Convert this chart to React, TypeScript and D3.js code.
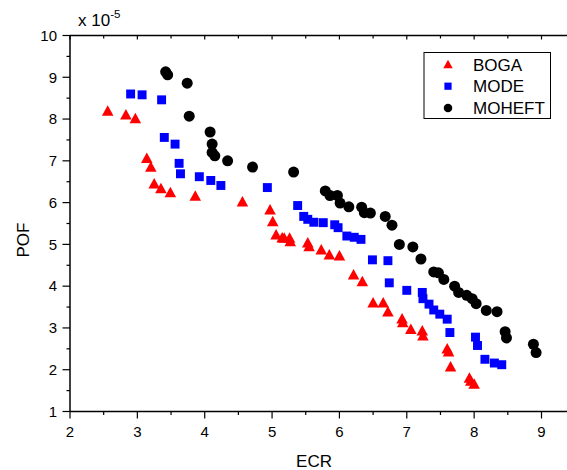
import React from "react";
import * as d3 from "d3";

const W = 567;
const H = 470;

const bogaX = [2.56, 2.83, 2.97, 3.14, 3.2, 3.25, 3.35, 3.49, 3.86, 4.56, 4.97, 5.01, 5.06, 5.15, 5.18, 5.26, 5.27, 5.53, 5.55, 5.73, 5.85, 6.0, 6.21, 6.34, 6.5, 6.65, 6.72, 6.93, 6.94, 7.06, 7.23, 7.24, 7.6, 7.62, 7.65, 7.93, 7.95, 8.0];
const bogaY = [8.19, 8.1, 8.01, 7.06, 6.85, 6.45, 6.34, 6.24, 6.16, 6.02, 5.83, 5.55, 5.23, 5.16, 5.15, 5.15, 5.07, 5.04, 4.95, 4.87, 4.75, 4.73, 4.27, 4.11, 3.6, 3.6, 3.39, 3.22, 3.13, 2.97, 2.93, 2.81, 2.5, 2.43, 2.07, 1.8, 1.73, 1.66];

const modeX = [2.9, 3.07, 3.36, 3.4, 3.56, 3.62, 3.64, 3.92, 4.09, 4.24, 4.93, 5.38, 5.47, 5.53, 5.62, 5.76, 5.93, 5.98, 6.11, 6.22, 6.32, 6.49, 6.72, 6.74, 7.0, 7.23, 7.24, 7.33, 7.4, 7.49, 7.6, 7.64, 8.02, 8.05, 8.16, 8.3, 8.41];
const modeY = [8.6, 8.58, 8.46, 7.56, 7.4, 6.94, 6.69, 6.62, 6.53, 6.41, 6.36, 5.93, 5.67, 5.6, 5.53, 5.52, 5.47, 5.4, 5.2, 5.17, 5.12, 4.63, 4.61, 4.08, 3.9, 3.85, 3.7, 3.57, 3.43, 3.33, 3.21, 2.89, 2.78, 2.58, 2.25, 2.16, 2.12];

const moheftX = [3.42, 3.45, 3.74, 3.77, 4.08, 4.11, 4.11, 4.15, 4.34, 4.71, 5.32, 5.79, 5.86, 5.97, 6.01, 6.14, 6.33, 6.37, 6.46, 6.68, 6.78, 6.89, 7.09, 7.21, 7.4, 7.47, 7.55, 7.71, 7.77, 7.89, 7.97, 8.03, 8.18, 8.34, 8.46, 8.48, 8.88, 8.92];
const moheftY = [9.13, 9.06, 8.86, 8.07, 7.69, 7.4, 7.2, 7.12, 7.0, 6.85, 6.73, 6.28, 6.17, 6.17, 5.99, 5.9, 5.89, 5.76, 5.75, 5.67, 5.46, 5.0, 4.94, 4.65, 4.34, 4.32, 4.16, 4.0, 3.85, 3.78, 3.7, 3.58, 3.42, 3.39, 2.91, 2.76, 2.61, 2.41];

const seriesNames = ["BOGA", "MODE", "MOHEFT"];
const seriesColors = ["#ff0000", "#0000ff", "#000000"];

const xMajor = [2, 3, 4, 5, 6, 7, 8, 9];
const xMinor = [2.5, 3.5, 4.5, 5.5, 6.5, 7.5, 8.5];
const yMajor = [1, 2, 3, 4, 5, 6, 7, 8, 9, 10];
const yMinor = [1.5, 2.5, 3.5, 4.5, 5.5, 6.5, 7.5, 8.5, 9.5];

const FONT = "'Liberation Sans', Arial, sans-serif";

function Marker({ kind, cx, cy, size, color }: { kind: number; cx: number; cy: number; size: number; color: string }) {
  if (kind === 0) {
    const w = size * 1.1;
    const h = size;
    const p = `M${cx},${cy - h * 0.55} L${cx + w / 2},${cy + h * 0.45} L${cx - w / 2},${cy + h * 0.45} Z`;
    return <path d={p} fill={color} />;
  }
  if (kind === 1) {
    const s = size * 0.85;
    return <rect x={cx - s / 2} y={cy - s / 2} width={s} height={s} fill={color} />;
  }
  return <circle cx={cx} cy={cy} r={size / 2} fill={color} />;
}

export default function App() {
  const x = d3.scaleLinear().domain([2, 9]).range([70, 541.5]);
  const y = d3.scaleLinear().domain([1, 10]).range([411.5, 35.5]);
  const left = 70;
  const right = 567;
  const top = 35.5;
  const bottom = 411.5;

  const data = [
    bogaX.map((v, i) => [v, bogaY[i]]),
    modeX.map((v, i) => [v, modeY[i]]),
    moheftX.map((v, i) => [v, moheftY[i]]),
  ];

  return (
    <svg width={W} height={H} style={{ position: "absolute", left: 0, top: 0, background: "#fff" }} fontFamily={FONT}>
      <rect x={0} y={0} width={W} height={H} fill="#fff" />
      {/* frame */}
      <line x1={left} x2={right} y1={top} y2={top} stroke="#000" strokeWidth={1.5} />
      <line x1={left} x2={right} y1={bottom} y2={bottom} stroke="#000" strokeWidth={1.5} />
      <line x1={left} x2={left} y1={top} y2={bottom} stroke="#000" strokeWidth={1.5} />
      {/* x ticks */}
      {xMajor.map((t) => (
        <g key={"xm" + t}>
          <line x1={x(t)} x2={x(t)} y1={bottom} y2={bottom + 7} stroke="#000" strokeWidth={1.2} />
          <line x1={x(t)} x2={x(t)} y1={top} y2={top + 4} stroke="#000" strokeWidth={1.2} />
          <text x={x(t)} y={437} fontSize={15} textAnchor="middle" fill="#000">{t}</text>
        </g>
      ))}
      {xMinor.map((t) => (
        <g key={"xn" + t}>
          <line x1={x(t)} x2={x(t)} y1={bottom} y2={bottom + 3.5} stroke="#000" strokeWidth={1.2} />
          <line x1={x(t)} x2={x(t)} y1={top} y2={top + 3} stroke="#000" strokeWidth={1.2} />
        </g>
      ))}
      {/* y ticks */}
      {yMajor.map((t) => (
        <g key={"ym" + t}>
          <line x1={left - 7.5} x2={left} y1={y(t)} y2={y(t)} stroke="#000" strokeWidth={1.2} />
          <text x={57} y={y(t) + 5.3} fontSize={15} textAnchor="end" fill="#000">{t}</text>
        </g>
      ))}
      {yMinor.map((t) => (
        <line key={"yn" + t} x1={left - 3.5} x2={left} y1={y(t)} y2={y(t)} stroke="#000" strokeWidth={1.2} />
      ))}
      {/* multiplier */}
      <text x={78} y={26} fontSize={17} fill="#000">
        x 10
        <tspan dy={-8} fontSize={11.5}>-5</tspan>
      </text>
      {/* axis titles */}
      <text x={314} y={467} fontSize={17} textAnchor="middle" fill="#000">ECR</text>
      <text transform={`translate(29,240) rotate(-90)`} fontSize={17} textAnchor="middle" fill="#000">POF</text>
      {/* points */}
      {data.map((pts, si) => (
        <g key={"s" + si}>
          {pts.map((p, i) => (
            <Marker key={i} kind={si} cx={x(p[0])} cy={y(p[1])} size={si === 0 ? 10.5 : si === 1 ? 10.5 : 11} color={seriesColors[si]} />
          ))}
        </g>
      ))}
      {/* legend */}
      <rect x={424} y={52.5} width={126.5} height={66} fill="#fff" stroke="#000" strokeWidth={1} />
      {seriesNames.map((n, i) => {
        const cy = 64.5 + i * 21.7;
        return (
          <g key={n}>
            <Marker kind={i} cx={448} cy={cy} size={8.5} color={seriesColors[i]} />
            <text x={473} y={cy + 6} fontSize={17} fill="#000">{n}</text>
          </g>
        );
      })}
    </svg>
  );
}
